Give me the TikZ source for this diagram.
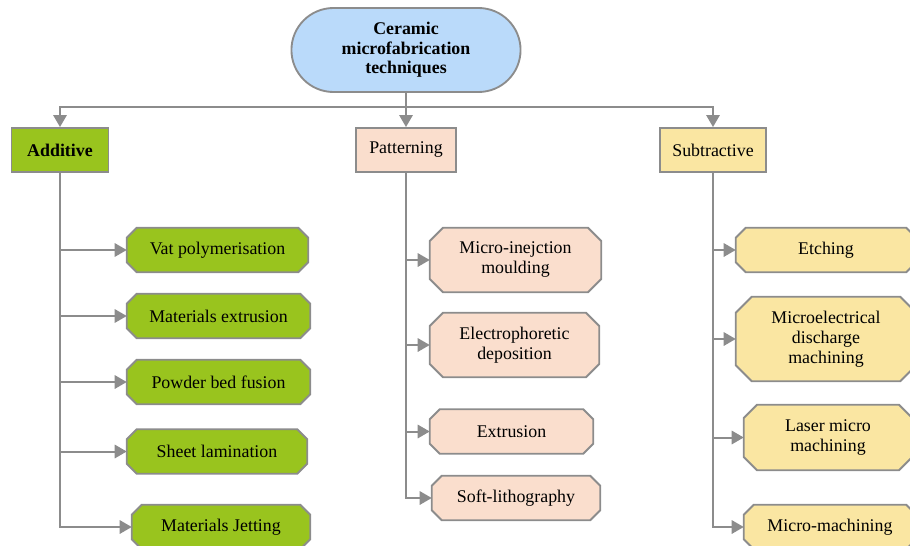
\documentclass[tikz,border=0pt]{standalone}
\usepackage{fontspec}
\setmainfont{Liberation Serif}
\usetikzlibrary{arrows.meta,shapes.misc,backgrounds}

\definecolor{rootblue}{RGB}{186,218,250}
\definecolor{addgreen}{RGB}{153,196,30}
\definecolor{patpeach}{RGB}{250,222,205}
\definecolor{subyellow}{RGB}{250,230,162}
\definecolor{linegray}{RGB}{140,140,140}

\tikzset{
  catbox/.style={draw=linegray, line width=1.4pt, minimum height=33pt, inner sep=2pt},
  octbox/.style={rectangle, minimum height=33pt, inner sep=2pt, align=center},
  octline/.style={draw=linegray, line width=1.4pt, line join=miter},
  link/.style={draw=linegray, line width=1.5pt, -{Triangle[length=9pt,width=10pt]}}
}

\begin{document}
\begin{tikzpicture}[x=0.75pt, y=-0.75pt, font=\fontsize{13.4}{15}\selectfont]
  \useasboundingbox (0,0) rectangle (910,546);
  \clip (0,0) rectangle (910,546);

  % the root
  \node[draw=linegray, line width=1.4pt, fill=rootblue, rounded rectangle,
        minimum width=178.5pt, minimum height=63pt, align=center,
        font=\fontsize{13.4}{14.5}\selectfont\bfseries] (root) at (406,50)
        {Ceramic\\microfabrication\\techniques};
  \coordinate (bus) at (406,107);

  % the three families
  \node[catbox, fill=addgreen, minimum width=72.75pt, font=\fontsize{13.4}{15}\selectfont\bfseries] (additive) at (60,150) {Additive};
  \node[catbox, fill=patpeach, minimum width=75pt] (patterning) at (406,150) {Patterning};
  \node[catbox, fill=subyellow, minimum width=79.5pt] (subtractive) at (713,150) {Subtractive};

  \draw[link] (root.south) |- (bus -| additive) -- (additive.north);
  \draw[link] (root.south) -- (patterning.north);
  \draw[link] (root.south) |- (bus -| subtractive) -- (subtractive.north);

  % additive branch
  \node[octbox, minimum width=135.75pt] (vat) at (217.5,250) {Vat polymerisation};
  \node[octbox, minimum width=137.25pt] (extr) at (218.5,316) {Materials extrusion};
  \node[octbox, minimum width=137.25pt] (powder) at (218.5,382) {Powder bed fusion};
  \node[octbox, minimum width=135pt] (sheet) at (217,451.5) {Sheet lamination};
  \node[octbox, minimum width=133.5pt] (jet) at (221,527) {Materials Jetting};

  \foreach \n in {vat,extr,powder,sheet,jet}
    \draw[link] (additive.south) |- (\n.west);

  % patterning branch
  \node[octbox, minimum width=128.25pt, minimum height=48pt] (inject) at (515.5,260) {Micro-inejction\\moulding};
  \node[octbox, minimum width=126.75pt, minimum height=48pt] (epd) at (514.5,345) {Electrophoretic\\deposition};
  \node[octbox, minimum width=122.25pt] (pextr) at (511.5,431.5) {Extrusion};
  \node[octbox, minimum width=126pt] (litho) at (516,498) {Soft-lithography};

  \foreach \n in {inject,epd,pextr,litho}
    \draw[link] (patterning.south) |- (\n.west);

  % subtractive branch
  \node[octbox, minimum width=135pt] (etch) at (826,250) {Etching};
  \node[octbox, minimum width=135pt, minimum height=63pt] (edm) at (826,339) {Microelectrical\\discharge\\machining};
  \node[octbox, minimum width=126pt, minimum height=48.75pt] (laser) at (828,437.5) {Laser micro\\machining};
  \node[octbox, minimum width=129pt] (mach) at (830,527) {Micro-machining};

  \foreach \n in {etch,edm,laser,mach}
    \draw[link] (subtractive.south) |- (\n.west);

  % cut corners behind the labels
  \begin{scope}[on background layer]
    \foreach \n/\c/\col in {vat/7.5/addgreen, extr/7.5/addgreen, powder/7.5/addgreen,
        sheet/7.5/addgreen, jet/7.5/addgreen,
        inject/10/patpeach, epd/10/patpeach, pextr/7.5/patpeach, litho/7.5/patpeach,
        etch/7.5/subyellow, edm/12/subyellow, laser/10/subyellow, mach/7.5/subyellow}
      \filldraw[octline, fill=\col]
        ([xshift=\c pt]\n.north west) -- ([xshift=-\c pt]\n.north east)
        -- ([yshift=-\c pt]\n.north east) -- ([yshift=\c pt]\n.south east)
        -- ([xshift=-\c pt]\n.south east) -- ([xshift=\c pt]\n.south west)
        -- ([yshift=\c pt]\n.south west) -- ([yshift=-\c pt]\n.north west) -- cycle;
  \end{scope}
\end{tikzpicture}
\end{document}
